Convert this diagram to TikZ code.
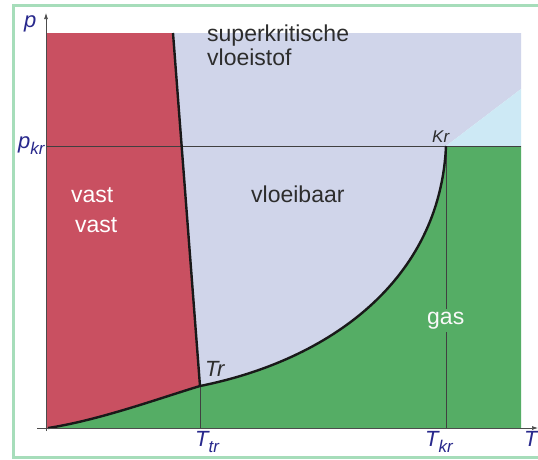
\documentclass[tikz,border=0pt]{standalone}
\usepackage{fontspec}
\setmainfont{Liberation Sans}
\usetikzlibrary{arrows.meta}
\definecolor{solidred}{RGB}{201,80,97}
\definecolor{liqblue}{RGB}{208,213,234}
\definecolor{gasgreen}{RGB}{85,173,101}
\definecolor{supcyan}{RGB}{205,233,245}
\definecolor{framegreen}{RGB}{166,221,186}
\definecolor{axisblue}{RGB}{40,40,140}
\definecolor{txtgray}{RGB}{45,45,45}
\tikzset{
  region/.style={text=txtgray,font=\fontsize{23}{24}\selectfont,inner sep=0pt,anchor=base west,align=left},
  axlabel/.style={text=axisblue,font=\fontsize{22}{22}\selectfont\itshape,inner sep=0pt,anchor=base west},
  phaseline/.style={line width=2.4pt,black!90},
  thinline/.style={line width=0.7pt,black!75},
}
\newcommand{\sbs}[1]{\raisebox{-0.3em}{\fontsize{17}{17}\selectfont #1}}
\begin{document}
\begin{tikzpicture}[x=1pt,y=-1pt]
\useasboundingbox (0,0) rectangle (538,459);
\fill[white] (0,0) rectangle (538,459);
% frame
\draw[framegreen,line width=3pt] (560,5) -- (13,5) -- (13,457) -- (560,457);
% key points
\coordinate (TL) at (46,33);
\coordinate (MT) at (173,33);
\coordinate (TP) at (200,386);
\coordinate (O) at (48,428);
\coordinate (KR) at (446,146);
\coordinate (TR) at (521,33);
\coordinate (CY) at (521,89);
\coordinate (PR) at (521,146);
\coordinate (BR) at (521,428);
\coordinate (PL) at (46,146);
\coordinate (TTR) at (200,428);
\coordinate (TKR) at (446,428);
% regions
\fill[solidred] (TL) -- (MT) -- (TP) .. controls (160,398) and (100,420) .. (O) -- (46,428) -- cycle;
\fill[liqblue] (MT) -- (TR) -- (CY) -- (KR) .. controls (440,280) and (330,360) .. (TP) -- cycle;
\fill[supcyan] (KR) -- (CY) -- (PR) -- cycle;
\fill[gasgreen] (46,428) -- (O) .. controls (100,420) and (160,398) .. (TP) .. controls (330,360) and (440,280) .. (KR) -- (PR) -- (BR) -- cycle;
% thin lines
\draw[thinline] (PL) -- (PR);
\draw[thinline] (TP) -- (TTR);
\draw[thinline] (KR) -- (TKR);
% phase boundaries
\draw[phaseline] (MT) -- (TP);
\draw[phaseline] (O) .. controls (100,420) and (160,398) .. (TP) .. controls (330,360) and (440,280) .. (KR);
% axes
\coordinate (ytop) at (46,13);
\coordinate (ybot) at (46,431);
\coordinate (xl) at (37,428);
\coordinate (xr) at (538,428);
\draw[black!70,line width=0.7pt,-{Latex[length=6pt,width=4pt]}] (ybot) -- (ytop);
\draw[black!70,line width=0.7pt,-{Latex[length=6pt,width=4pt]}] (xl) -- (xr);
% region labels
\node[region] (sk) at (207,65) {superkritische\\vloeistof};
\node[region] (vb) at (251,202) {vloeibaar};
\node[region,text=white] (v1) at (71,202) {vast};
\node[region,text=white] (v2) at (75,232) {vast};
\node[region,text=white!95!gray,fill=gasgreen,inner ysep=3pt] (gs) at (427,324) {gas};
\node[region,font=\fontsize{22}{22}\selectfont\itshape] (trl) at (205,376) {Tr};
\node[region,font=\fontsize{17}{17}\selectfont\itshape] (krl) at (432,142) {Kr};
% axis labels
\node[axlabel] (pl) at (24,27) {p};
\node[axlabel] (pkr) at (18,148) {p\sbs{kr}};
\node[axlabel] (ttr) at (195,446) {T\sbs{tr}};
\node[axlabel] (tkr) at (425,446) {T\sbs{kr}};
\node[axlabel] (tl) at (524,446) {T};
\end{tikzpicture}
\end{document}
